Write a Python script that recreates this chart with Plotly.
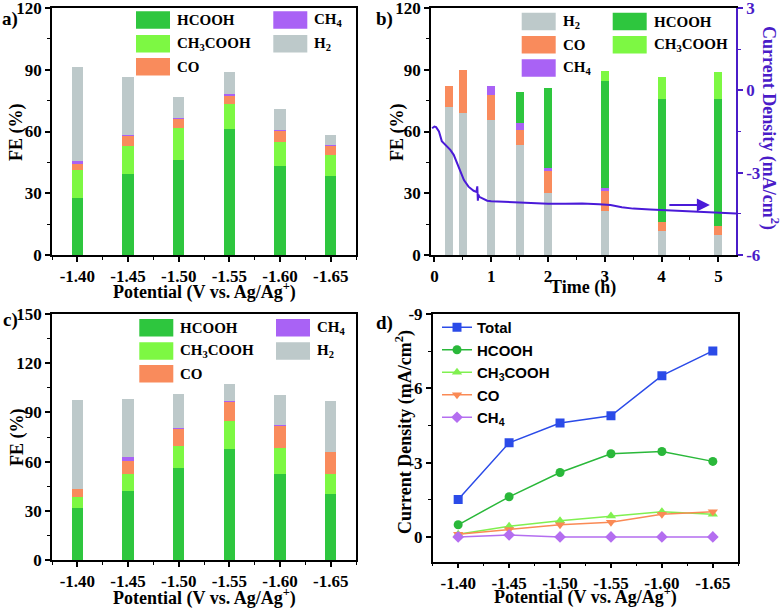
import plotly.graph_objects as go

W, H = 784, 608
def PX(x): return x / W
def PY(y): return 1 - y / H

# ---------------- data ----------------
potentials = [-1.40, -1.45, -1.50, -1.55, -1.60, -1.65]
potential_labels = ["-1.40", "-1.45", "-1.50", "-1.55", "-1.60", "-1.65"]

# panel a : FE (%) vs potential
a_hcooh   = [27.7, 39.2, 46.2, 61.3, 43.0, 38.6]
a_ch3cooh = [13.7, 14.0, 15.7, 12.3, 12.1, 10.0]
a_co      = [2.9, 4.8, 4.3, 4.1, 5.2, 4.6]
a_ch4     = [1.6, 0.5, 0.3, 0.3, 0.3, 0.1]
a_h2      = [45.6, 27.8, 10.4, 10.7, 10.4, 4.8]

# panel b : FE (%) vs time, plus current density trace
times     = [0.25, 0.5, 1, 1.5, 2, 3, 4, 5]
b_h2      = [72.0, 68.8, 65.8, 53.5, 30.3, 21.6, 11.8, 9.7]
b_co      = [10.2, 20.9, 11.7, 7.1, 10.4, 9.7, 4.4, 4.4]
b_ch4     = [0, 0, 4.7, 3.4, 1.5, 1.3, 0, 0]
b_hcooh   = [0, 0, 0, 15.1, 38.9, 51.7, 59.4, 61.8]
b_ch3cooh = [0, 0, 0, 0, 0, 4.9, 10.7, 12.8]

curve_t = [-0.04, 0.0, 0.03, 0.08, 0.13, 0.2, 0.28, 0.34, 0.40, 0.46, 0.52,
           0.60, 0.69, 0.74, 0.755, 0.765, 0.775, 0.79, 0.84, 0.93, 1.0,
           1.2, 1.5, 1.8, 2.0, 2.3, 2.6, 2.9, 3.1, 3.3, 3.5, 3.8, 4.1,
           4.4, 4.7, 5.0, 5.31]
curve_j = [-1.38, -1.32, -1.34, -1.50, -1.85, -2.00, -2.17, -2.35, -2.66,
           -3.02, -3.27, -3.51, -3.66, -3.70, -3.50, -4.02, -3.80, -3.88,
           -3.93, -4.02, -4.04, -4.07, -4.09, -4.11, -4.13, -4.13, -4.12,
           -4.15, -4.18, -4.26, -4.31, -4.34, -4.37, -4.42, -4.45, -4.48,
           -4.49]

# panel c : FE (%) vs potential
c_hcooh   = [31.9, 42.1, 56.1, 67.9, 52.5, 40.3]
c_ch3cooh = [6.5, 10.4, 13.5, 16.9, 15.6, 12.2]
c_co      = [4.7, 8.1, 10.5, 12.0, 13.9, 13.6]
c_ch4     = [0.0, 2.0, 0.4, 0.4, 0.6, 0.0]
c_h2      = [54.7, 35.4, 20.8, 10.0, 18.3, 31.1]

# panel d : partial current densities (mA/cm2)
d_total   = [-1.51, -3.80, -4.60, -4.89, -6.51, -7.51]
d_hcooh   = [-0.49, -1.62, -2.60, -3.36, -3.45, -3.05]
d_ch3cooh = [-0.11, -0.43, -0.65, -0.84, -1.02, -0.92]
d_co      = [-0.11, -0.30, -0.49, -0.59, -0.92, -1.02]
d_ch4     = [0.0, -0.08, 0.0, 0.0, 0.0, 0.0]

# ---------------- styles ----------------
C_HCOOH = "#2EC63E"
C_CH3 = "#7DF843"
C_CO = "#F98B5C"
C_CH4 = "#A962F5"
C_H2 = "#BDC9CA"
C_LINE = "#4A1AD8"
C_AX2 = "#4A1CC8"

SERIF = "Liberation Serif"
SANS = "Liberation Sans"

fig = go.Figure()

def bars(x, y, color, name, xa, ya, width):
    fig.add_trace(go.Bar(x=x, y=y, name=name, marker_color=color,
                         marker_line_width=0, width=width,
                         xaxis=xa, yaxis=ya, showlegend=False))

# panel a
for vals, col, nm in [(a_hcooh, C_HCOOH, "HCOOH"), (a_ch3cooh, C_CH3, "CH3COOH"),
                      (a_co, C_CO, "CO"), (a_ch4, C_CH4, "CH4"), (a_h2, C_H2, "H2")]:
    bars(potentials, vals, col, nm, "x", "y", 0.011)

# panel b
for vals, col, nm in [(b_h2, C_H2, "H2"), (b_co, C_CO, "CO"), (b_ch4, C_CH4, "CH4"),
                      (b_hcooh, C_HCOOH, "HCOOH"), (b_ch3cooh, C_CH3, "CH3COOH")]:
    bars(times, vals, col, nm, "x2", "y2", 0.14)
fig.add_trace(go.Scatter(x=curve_t, y=curve_j, mode="lines",
                         line=dict(color=C_LINE, width=2),
                         xaxis="x2", yaxis="y3", showlegend=False))

# panel c
for vals, col, nm in [(c_hcooh, C_HCOOH, "HCOOH"), (c_ch3cooh, C_CH3, "CH3COOH"),
                      (c_co, C_CO, "CO"), (c_ch4, C_CH4, "CH4"), (c_h2, C_H2, "H2")]:
    bars(potentials, vals, col, nm, "x3", "y4", 0.011)

# panel d
for vals, col, sym, nm in [(d_total, "#2B4BE8", "square", "Total"),
                           (d_hcooh, "#2AB83A", "circle", "HCOOH"),
                           (d_ch3cooh, "#80F050", "triangle-up", "CH<sub>3</sub>COOH"),
                           (d_co, "#FA8A55", "triangle-down", "CO"),
                           (d_ch4, "#B46EF0", "diamond", "CH<sub>4</sub>")]:
    fig.add_trace(go.Scatter(x=potentials, y=vals, mode="lines+markers", name=nm,
                             line=dict(color=col, width=1.5),
                             marker=dict(color=col, symbol=sym, size=9),
                             xaxis="x4", yaxis="y5"))

tickfont = dict(family=SERIF, size=17, color="black", weight="bold")

def ax(domain, rng, **kw):
    d = dict(domain=domain, range=rng, showline=True, linecolor="black", linewidth=1.5,
             mirror=True, ticks="outside", ticklen=5, tickwidth=1.5, tickcolor="black",
             showgrid=False, zeroline=False, tickfont=tickfont, automargin=False,
             ticklabeloverflow="allow")
    d.update(kw)
    return d

def minor(dtick, tick0=0, color="black"):
    return dict(ticks="outside", ticklen=3, tickwidth=1.2, tickcolor=color,
                dtick=dtick, tick0=tick0, showgrid=False)

pot_x = dict(tickmode="array", tickvals=potentials, ticktext=potential_labels,
             minor=minor(0.025, -1.40))

xa_dom = [PX(52), PX(356)]
xb_dom = [PX(431), PX(736)]
xd_dom = [PX(432.7), PX(738.3)]
ytop_dom = [PY(255), PY(8)]
ybot_dom = [PY(560), PY(314)]
yd_dom = [PY(561.7), PY(314)]

fig.update_layout(
    width=W, height=H, margin=dict(l=0, r=0, t=0, b=0, pad=0, autoexpand=False),
    paper_bgcolor="white", plot_bgcolor="white",
    barmode="stack", bargap=0,
    xaxis=ax(xa_dom, [-1.375, -1.675], anchor="y", **pot_x),
    yaxis=ax(ytop_dom, [0, 120], anchor="x", tickmode="linear", tick0=0, dtick=30,
             minor=minor(15)),
    xaxis2=ax(xb_dom, [-0.06, 5.31], anchor="y2", tickmode="linear", tick0=0, dtick=1,
              minor=minor(0.5)),
    yaxis2=ax(ytop_dom, [0, 120], anchor="x2", mirror=False, tickmode="linear", tick0=0,
              dtick=30, minor=minor(15)),
    yaxis3=ax(ytop_dom, [-6, 3], anchor="x2", overlaying="y2", side="right",
              mirror=False, linecolor=C_AX2, tickcolor=C_AX2,
              tickfont=dict(family=SERIF, size=17, color=C_AX2, weight="bold"),
              tickmode="array", tickvals=[-6, -3, 0, 3], ticktext=["-6", "-3", "0", "3"],
              minor=minor(1.5, 0, C_AX2)),
    xaxis3=ax(xa_dom, [-1.375, -1.675], anchor="y4", **pot_x),
    yaxis4=ax(ybot_dom, [0, 150], anchor="x3", tickmode="linear", tick0=0, dtick=30,
              minor=minor(15)),
    xaxis4=ax(xd_dom, [-1.375, -1.675], anchor="y5", **pot_x),
    yaxis5=ax(yd_dom, [1, -9], anchor="x4", tickmode="array", tickvals=[-9, -6, -3, 0],
              ticktext=["-9", "-6", "-3", "0"], minor=minor(1.5)),
    legend=dict(x=PX(437), y=PY(311), xanchor="left", yanchor="top",
                bgcolor="rgba(0,0,0,0)", borderwidth=0, traceorder="normal",
                font=dict(family=SANS, size=15, color="black", weight="bold"),
                itemwidth=30, tracegroupgap=0),
)

ann = []
def text(x, y, s, size=18, color="black", angle=0, xanchor="center", family=SERIF):
    ann.append(dict(x=PX(x), y=PY(y), xref="paper", yref="paper", text=s, showarrow=False,
                    xanchor=xanchor, yanchor="middle", textangle=angle,
                    font=dict(family=family, size=size, color=color, weight="bold")))

# panel labels
text(10, 19, "a)", 19)
text(384, 19, "b)", 19)
text(10, 320, "c)", 19)
text(384, 323, "d)", 19)

# axis titles
text(17, 132, "FE (%)", 18, angle=-90)
text(204, 291, "Potential (V vs. Ag/Ag<sup>+</sup>)", 18)
text(398, 132, "FE (%)", 18, angle=-90)
text(583, 288, "Time (h)", 18)
text(770, 128, "Current Density (mA/cm<sup>2</sup>)", 18, color=C_AX2, angle=90)
text(17, 437, "FE (%)", 18, angle=-90)
text(204, 597, "Potential (V vs. Ag/Ag<sup>+</sup>)", 18)
text(404, 432, "Current Density (mA/cm<sup>2</sup>)", 18, angle=-90)
text(585, 596, "Potential (V vs. Ag/Ag<sup>+</sup>)", 18)

# manual legends for bar panels
shapes = []
def swatch(x0, y0, x1, y1, color):
    shapes.append(dict(type="rect", xref="paper", yref="paper", x0=PX(x0), x1=PX(x1),
                       y0=PY(y1), y1=PY(y0), fillcolor=color, line=dict(width=0)))

def legend_block(col1_x, col2_x, rows_y, entries):
    for col, row, color, label in entries:
        sx = col1_x if col == 0 else col2_x
        y0 = rows_y[row]
        swatch(sx, y0, sx + 34, y0 + 17.5, color)
        text(sx + 39, y0 + 9, label, 15, xanchor="left")

legend_block(136, 273.3, [11.3, 35, 58],
             [(0, 0, C_HCOOH, "HCOOH"), (0, 1, C_CH3, "CH<sub>3</sub>COOH"), (0, 2, C_CO, "CO"),
              (1, 0, C_CH4, "CH<sub>4</sub>"), (1, 1, C_H2, "H<sub>2</sub>")])
legend_block(521.7, 612.7, [12.7, 36, 59.3],
             [(0, 0, C_H2, "H<sub>2</sub>"), (0, 1, C_CO, "CO"), (0, 2, C_CH4, "CH<sub>4</sub>"),
              (1, 0, C_HCOOH, "HCOOH"), (1, 1, C_CH3, "CH<sub>3</sub>COOH")])
legend_block(139.3, 276, [319, 342.3, 365],
             [(0, 0, C_HCOOH, "HCOOH"), (0, 1, C_CH3, "CH<sub>3</sub>COOH"), (0, 2, C_CO, "CO"),
              (1, 0, C_CH4, "CH<sub>4</sub>"), (1, 1, C_H2, "H<sub>2</sub>")])

# arrow pointing to the right axis (panel b)
ann.append(dict(x=4.85, y=-4.18, ax=4.11, ay=-4.18, xref="x2", yref="y3",
                axref="x2", ayref="y3", showarrow=True, arrowhead=2, arrowsize=1.3,
                arrowwidth=2, arrowcolor=C_LINE, text=""))

fig.update_layout(annotations=ann, shapes=shapes)
fig.write_html("out.html", config={"displayModeBar": False},
               post_script="document.body.style.margin='0';document.body.style.overflow='hidden';")
